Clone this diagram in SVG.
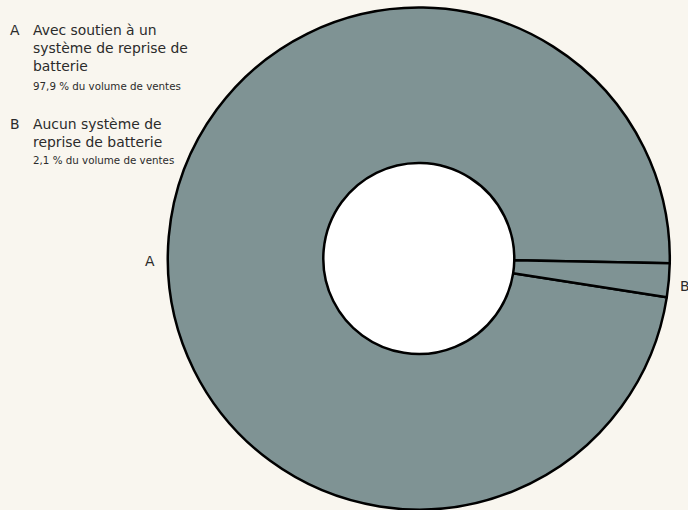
<svg xmlns="http://www.w3.org/2000/svg" width="688" height="510" viewBox="0 0 688 510">
<style>
.t{font-family:"DejaVu Sans","Liberation Sans",sans-serif;fill:#2b2b2b;font-size:13.9px}
.s{font-family:"DejaVu Sans","Liberation Sans",sans-serif;fill:#2b2b2b;font-size:10.3px}
.seg{fill:#7f9394;stroke:#000;stroke-width:2.5;stroke-linejoin:round}
</style>
<rect width="688" height="510" fill="#f9f6ef"/>
<g id="legend">
<text class="t" x="10" y="35">A</text>
<text class="t" x="33" y="35">Avec soutien à un</text>
<text class="t" x="33" y="53">système de reprise de</text>
<text class="t" x="33" y="71">batterie</text>
<text class="s" x="33" y="90">97,9 % du volume de ventes</text>
<text class="t" x="10" y="129">B</text>
<text class="t" x="33" y="129">Aucun système de</text>
<text class="t" x="33" y="147">reprise de batterie</text>
<text class="s" x="33" y="164">2,1 % du volume de ventes</text>
</g>
<circle id="hole" cx="418.8" cy="258.5" r="95.5" fill="#fff"/>
<g id="segA">
<path class="seg" d="M 666.78 297.33 A 251 251 0 1 1 669.75 263.32 L 514.28 260.33 A 95.5 95.5 0 1 0 513.15 273.27 Z"/>
<text class="t" x="145" y="266">A</text>
</g>
<g id="segB">
<path class="seg" d="M 669.75 263.32 A 251 251 0 0 1 666.78 297.33 L 513.15 273.27 A 95.5 95.5 0 0 0 514.28 260.33 Z"/>
<text class="t" x="680" y="291">B</text>
</g>
</svg>
